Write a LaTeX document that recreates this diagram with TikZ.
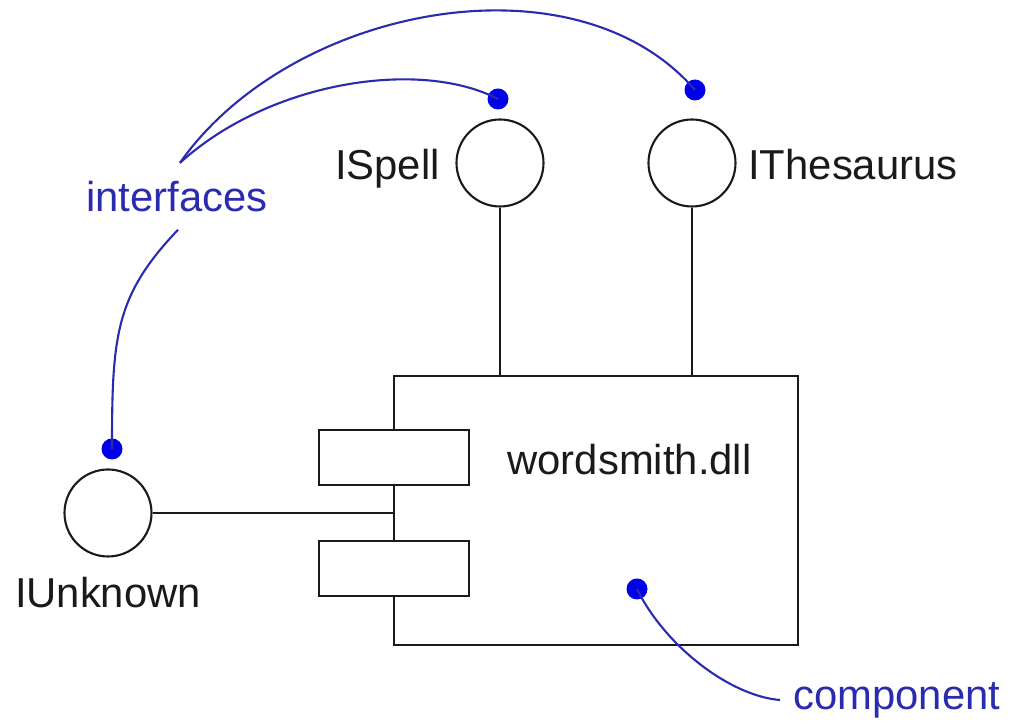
\documentclass[tikz,border=0pt]{standalone}
\usepackage{fontspec}
\setmainfont{Liberation Sans}
\usetikzlibrary{positioning}
\definecolor{inkline}{HTML}{1A1A1A}
\definecolor{noteblue}{HTML}{2B2BB0}
\definecolor{dotblue}{HTML}{0000E6}

\begin{document}
\begin{tikzpicture}[font=\fontsize{23.8}{28}\selectfont,
  iface/.style={draw=inkline, circle, minimum size=1.74cm, inner sep=0pt, line width=1.2pt},
  portbox/.style={draw=inkline, fill=white, minimum width=3cm, minimum height=1.1cm, inner sep=0pt, line width=1.2pt},
  pin/.style={circle, fill=dotblue, minimum size=0.42cm, inner sep=0pt},
  wire/.style={inkline, line width=1.2pt},
  note/.style={noteblue, line width=1.2pt},
  lab/.style={inner sep=0pt, text=inkline}]
  \useasboundingbox (0,0) rectangle (20.22,14.52);
  % component body and its two ports
  \node[draw=inkline, line width=1.2pt, minimum width=8.08cm, minimum height=5.38cm, inner sep=0pt] (dll) at (11.92,4.31) {};
  \foreach \nm/\yy in {porta/5.37, portb/3.15}{%
    \node[portbox] (\nm) at (7.88,\yy) {};}
  \node[lab, anchor=base] (dlllab) at (12.59,5.02) {wordsmith.dll};
  % interfaces
  \node[iface] (spell) at (10.0,11.26) {};
  \node[iface] (thes) at (13.84,11.26) {};
  \node[iface] (unk) at (2.16,4.26) {};
  \node[lab, anchor=base east] (spelllab) at (8.8,10.92) {ISpell};
  \node[lab, anchor=base west] (theslab) at (14.96,10.92) {IThesaurus};
  \node[lab, anchor=base] (unklab) at (2.16,2.36) {IUnknown};
  \draw[wire] (spell.south) -- (spell.south |- dll.north);
  \draw[wire] (thes.south) -- (thes.south |- dll.north);
  \draw[wire] (unk.east) -- (unk.east -| dll.west);
  % notes
  \node[lab, anchor=base, text=noteblue] (ifc) at (3.54,10.28) {interfaces};
  \node[lab, anchor=base west, text=noteblue] (comp) at (15.86,0.32) {component};
  \node[pin] (spellpin) at (9.96,12.54) {};
  \node[pin] (thespin) at (13.9,12.72) {};
  \node[pin] (unkpin) at (2.24,5.54) {};
  \node[pin] (dllpin) at (12.74,2.74) {};
  \coordinate (ifup) at ([xshift=0.06cm, yshift=0.37cm]ifc.north);
  \coordinate (ifdown) at ([xshift=0.02cm, yshift=-0.34cm]ifc.south);
  \coordinate (compend) at ([xshift=-0.26cm, yshift=0.2cm]comp.base west);
  \draw[note] (ifup) .. controls (5.4,12.9) and (8.4,13.35) .. (spellpin.center);
  \draw[note] (ifup) .. controls (5.8,14.4) and (11.5,15.5) .. (thespin.center);
  \draw[note] (ifdown) .. controls (2.3,8.6) and (2.24,7.8) .. (unkpin.center);
  \draw[note] (dllpin.center) .. controls (13.3,1.6) and (14.6,0.6) .. (compend);
\end{tikzpicture}
\end{document}
